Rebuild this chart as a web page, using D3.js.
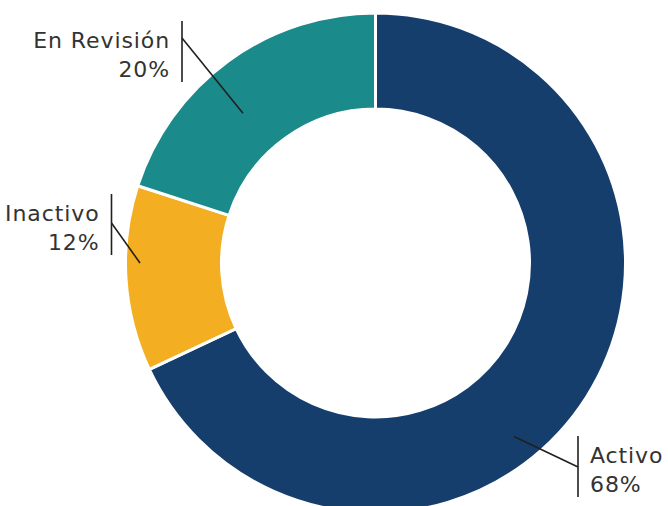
<!DOCTYPE html>
<html>
<head>
<meta charset="utf-8">
<script src="https://cdn.jsdelivr.net/npm/d3@7"></script>
<style>
  body { margin: 0; background: #fff; }
  text { font-family: "DejaVu Sans", sans-serif; fill: #333; }
</style>
</head>
<body>
<svg width="668" height="506"></svg>
<script>
var svg = d3.select('svg');

var width = +svg.attr("width"),
    height = +svg.attr("height");

// data
var categories = ['Activo', 'Inactivo', 'En Revisión'];
var values = [68, 12, 20];
var sliceColors = ['#153e6d', '#f4ae22', '#1a8a8a'];

// callout layout (relative to centre): bar x, bar top, bend y, pointer angle/radius
var callouts = [
    { bx: 202.5, top: 173, bend: 204, ang: 141.4, rad: 222, side: 'right' },
    { bx: -264, top: -69, bend: -40, ang: 270, rad: 235.5, side: 'left' },
    { bx: -193.5, top: -242, bend: -225, ang: 318.5, rad: 200, side: 'left' }
];

var cx = 375.5, cy = 263;
var outerR = 250, innerR = 154;

var g = svg.append('g')
    .attr('transform', 'translate(' + cx + ',' + cy + ')');

var pie = d3.pie()
    .sort(null)
    .value(function(d) { return d; });

var arc = d3.arc()
    .innerRadius(innerR)
    .outerRadius(outerR);

var arcs = pie(values);

g.selectAll('.slice')
    .data(arcs)
  .enter().append('path')
    .attr('class', 'slice')
    .attr('d', arc)
    .style('fill', function(d, i) { return sliceColors[i]; })
    .style('stroke', '#fff')
    .style('stroke-width', 3);

// callouts
var labels = g.selectAll('.callout')
    .data(categories)
  .enter().append('g')
    .attr('class', 'callout');

labels.append('line')
    .attr('x1', function(d, i) { return callouts[i].bx; })
    .attr('x2', function(d, i) { return callouts[i].bx; })
    .attr('y1', function(d, i) { return callouts[i].top; })
    .attr('y2', function(d, i) { return callouts[i].top + 61; })
    .style('stroke', '#231f20')
    .style('stroke-width', 1.6);

labels.append('line')
    .attr('x1', function(d, i) { return callouts[i].bx; })
    .attr('y1', function(d, i) { return callouts[i].bend; })
    .attr('x2', function(d, i) {
        var a = callouts[i].ang * Math.PI / 180;
        return callouts[i].rad * Math.sin(a);
    })
    .attr('y2', function(d, i) {
        var a = callouts[i].ang * Math.PI / 180;
        return -callouts[i].rad * Math.cos(a);
    })
    .style('stroke', '#231f20')
    .style('stroke-width', 1.6);

var txt = labels.append('text')
    .attr('text-anchor', function(d, i) { return callouts[i].side == 'right' ? 'start' : 'end'; })
    .style('font-size', '22px')
    .style('letter-spacing', '0.9px');

txt.append('tspan')
    .attr('x', function(d, i) { return callouts[i].side == 'right' ? callouts[i].bx + 12 : callouts[i].bx - 12; })
    .attr('y', function(d, i) { return callouts[i].top + 27; })
    .text(function(d) { return d; });

txt.append('tspan')
    .attr('x', function(d, i) { return callouts[i].side == 'right' ? callouts[i].bx + 12 : callouts[i].bx - 12; })
    .attr('y', function(d, i) { return callouts[i].top + 56; })
    .text(function(d, i) { return values[i] + '%'; });
</script>
</body>
</html>
